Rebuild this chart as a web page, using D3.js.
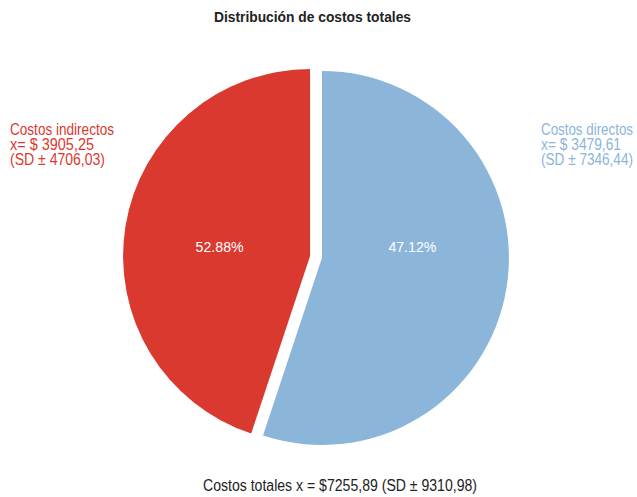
<!DOCTYPE html>
<html><head><meta charset="utf-8">
<script src="https://cdn.jsdelivr.net/npm/d3@7"></script>
<style>body{margin:0;background:#fff}svg{display:block}text{font-family:"Liberation Sans",Arial,sans-serif}</style>
</head><body>
<script>
const categories = ["Costos directos", "Costos indirectos"];
const sliceShares = [55.1, 44.9];          // drawn slice sizes
const percentLabels = ["47.12%", "52.88%"];
const meanLabels = ["x= $ 3479,61", "x= $ 3905,25"];
const sdLabels = ["(SD ± 7346,44)", "(SD ± 4706,03)"];
const colors = ["#8CB5DA", "#DA3930"];
const title = "Distribución de costos totales";
const footer = "Costos totales x = $7255,89 (SD ± 9310,98)";

const W = 637, H = 497;
const cx = 316, cy = 257, R = 187, explode = 6;
const svg = d3.select("body").append("svg").attr("width", W).attr("height", H);

function narrow(sel, len) {
  return sel.attr("textLength", len).attr("lengthAdjust", "spacingAndGlyphs");
}

narrow(svg.append("text").attr("x", 214).attr("y", 22)
  .attr("font-size", 15).attr("font-weight", "bold").attr("fill", "#222").text(title), 197);

const pie = d3.pie().sort(null).value(d => d);
const arcs = pie(sliceShares);
const arc = d3.arc().innerRadius(0).outerRadius(R);

const g = svg.append("g").attr("transform", `translate(${cx},${cy})`);
arcs.forEach((a, i) => {
  const mid = (a.startAngle + a.endAngle) / 2;
  const ox = Math.sin(mid) * explode, oy = -Math.cos(mid) * explode;
  const sg = g.append("g").attr("transform", `translate(${ox},${oy})`);
  sg.append("path").attr("d", arc(a)).attr("fill", colors[i]);
  const lx = Math.sin(mid) * R * 0.49;
  narrow(sg.append("text").attr("x", lx - 24).attr("y", -oy - 5)
    .attr("font-size", 14).attr("fill", "#fff").text(percentLabels[i]), 48);
});

// side labels
const sideX = [541, 10];
const sideLens = [[92, 80, 92], [104, 84, 95]];
categories.forEach((c, i) => {
  [c, meanLabels[i], sdLabels[i]].forEach((s, k) => {
    narrow(svg.append("text").attr("x", sideX[i]).attr("y", 135 + k * 15)
      .attr("font-size", 16).attr("fill", colors[i]).text(s), sideLens[i][k]);
  });
});

narrow(svg.append("text").attr("x", 203).attr("y", 491)
  .attr("font-size", 16).attr("fill", "#222").text(footer), 274);
</script>
</body></html>
